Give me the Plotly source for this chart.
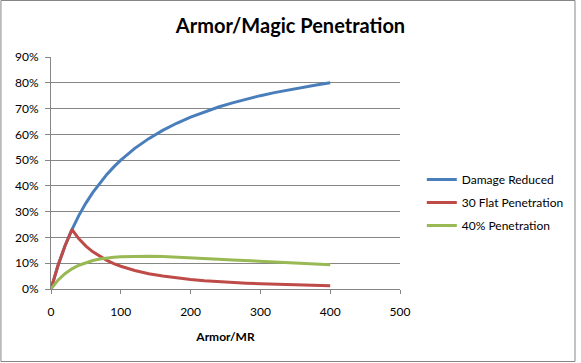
import plotly.graph_objects as go

armor = [0, 10, 20, 30, 40, 50, 60, 70, 80, 90, 100, 120, 140, 160, 180, 200,
         220, 240, 260, 280, 300, 320, 340, 360, 380, 400]
damage_reduced = [0, 0.0909, 0.1667, 0.2308, 0.2857, 0.3333, 0.375, 0.4118, 0.4444, 0.4737,
                  0.5, 0.5455, 0.5833, 0.6154, 0.6429, 0.6667, 0.6875, 0.7059, 0.7222, 0.7368,
                  0.75, 0.7619, 0.7727, 0.7826, 0.7917, 0.8]
flat_pen = [0, 0.0909, 0.1667, 0.2308, 0.1948, 0.1667, 0.1442, 0.1261, 0.1111, 0.0987,
            0.0882, 0.0718, 0.0595, 0.0502, 0.0429, 0.0370, 0.0323, 0.0284, 0.0253, 0.0226,
            0.0203, 0.0183, 0.0166, 0.0152, 0.0139, 0.0128]
pct_pen = [0, 0.0343, 0.0595, 0.0783, 0.0922, 0.1026, 0.1103, 0.1160, 0.1201, 0.1231,
           0.125, 0.1269, 0.1268, 0.1256, 0.1237, 0.1212, 0.1185, 0.1157, 0.1128, 0.1099,
           0.1071, 0.1044, 0.1016, 0.0991, 0.0966, 0.0941]

names = ["Damage Reduced", "30 Flat Penetration", "40% Penetration"]
colors = ["#4A7EBB", "#BE4B48", "#98B954"]
x_ticks = [0, 100, 200, 300, 400, 500]
y_ticks = [0, 0.1, 0.2, 0.3, 0.4, 0.5, 0.6, 0.7, 0.8, 0.9]

W, H = 581, 363
L, R, T, B = 51, 178, 57, 74
pw, ph = W - L - R, H - T - B

fig = go.Figure()
for i, (name, ys) in enumerate(zip(names, [damage_reduced, flat_pen, pct_pen])):
    fig.add_trace(go.Scatter(x=armor, y=ys, mode="lines", name=name,
                             legendgroup=str(i),
                             line=dict(color=colors[i], width=3)))

font = "Lato, 'Open Sans', sans-serif"
fig.update_layout(
    width=W, height=H,
    margin=dict(l=L, r=R, t=T, b=B),
    paper_bgcolor="white", plot_bgcolor="white",
    title=dict(text="<b>Armor/Magic Penetration</b>", x=0.5, xanchor="center",
               y=1 - 26 / H, yanchor="middle",
               font=dict(family=font, size=20, color="black")),
    font=dict(family=font, size=12, color="black"),
    showlegend=True,
    legend=dict(x=(425 - L) / pw, y=1 - (165 - T) / ph, xanchor="left", yanchor="top",
                traceorder="grouped", tracegroupgap=4,
                font=dict(family=font, size=12, color="black"),
                bgcolor="rgba(0,0,0,0)"),
    xaxis=dict(range=[0, 500], tickvals=x_ticks, ticktext=[str(v) for v in x_ticks],
               showgrid=False, zeroline=False, showline=True, linecolor="#868686",
               ticks="outside", ticklen=4, tickcolor="#868686", ticklabelstandoff=8,
               title=dict(text="<b>Armor/MR</b>", font=dict(family=font, size=12), standoff=14)),
    yaxis=dict(range=[0, 0.9], tickvals=y_ticks,
               ticktext=[f"{round(v*100)}%" for v in y_ticks],
               showgrid=True, gridcolor="#868686", gridwidth=1, zeroline=False,
               showline=True, linecolor="#868686", ticklabelstandoff=4,
               ticks="outside", ticklen=5, tickcolor="#868686"),
    shapes=[dict(type="rect", xref="paper", yref="paper",
                 x0=(0.5 - L) / pw, x1=(W - 1.5 - L) / pw,
                 y0=(B - 1.5) / -ph, y1=1 + (T - 0.5) / ph,
                 line=dict(color="#868686", width=1))],
)

fig.write_html("out.html", config={"displayModeBar": False},
               post_script="document.body.style.margin='0';")
